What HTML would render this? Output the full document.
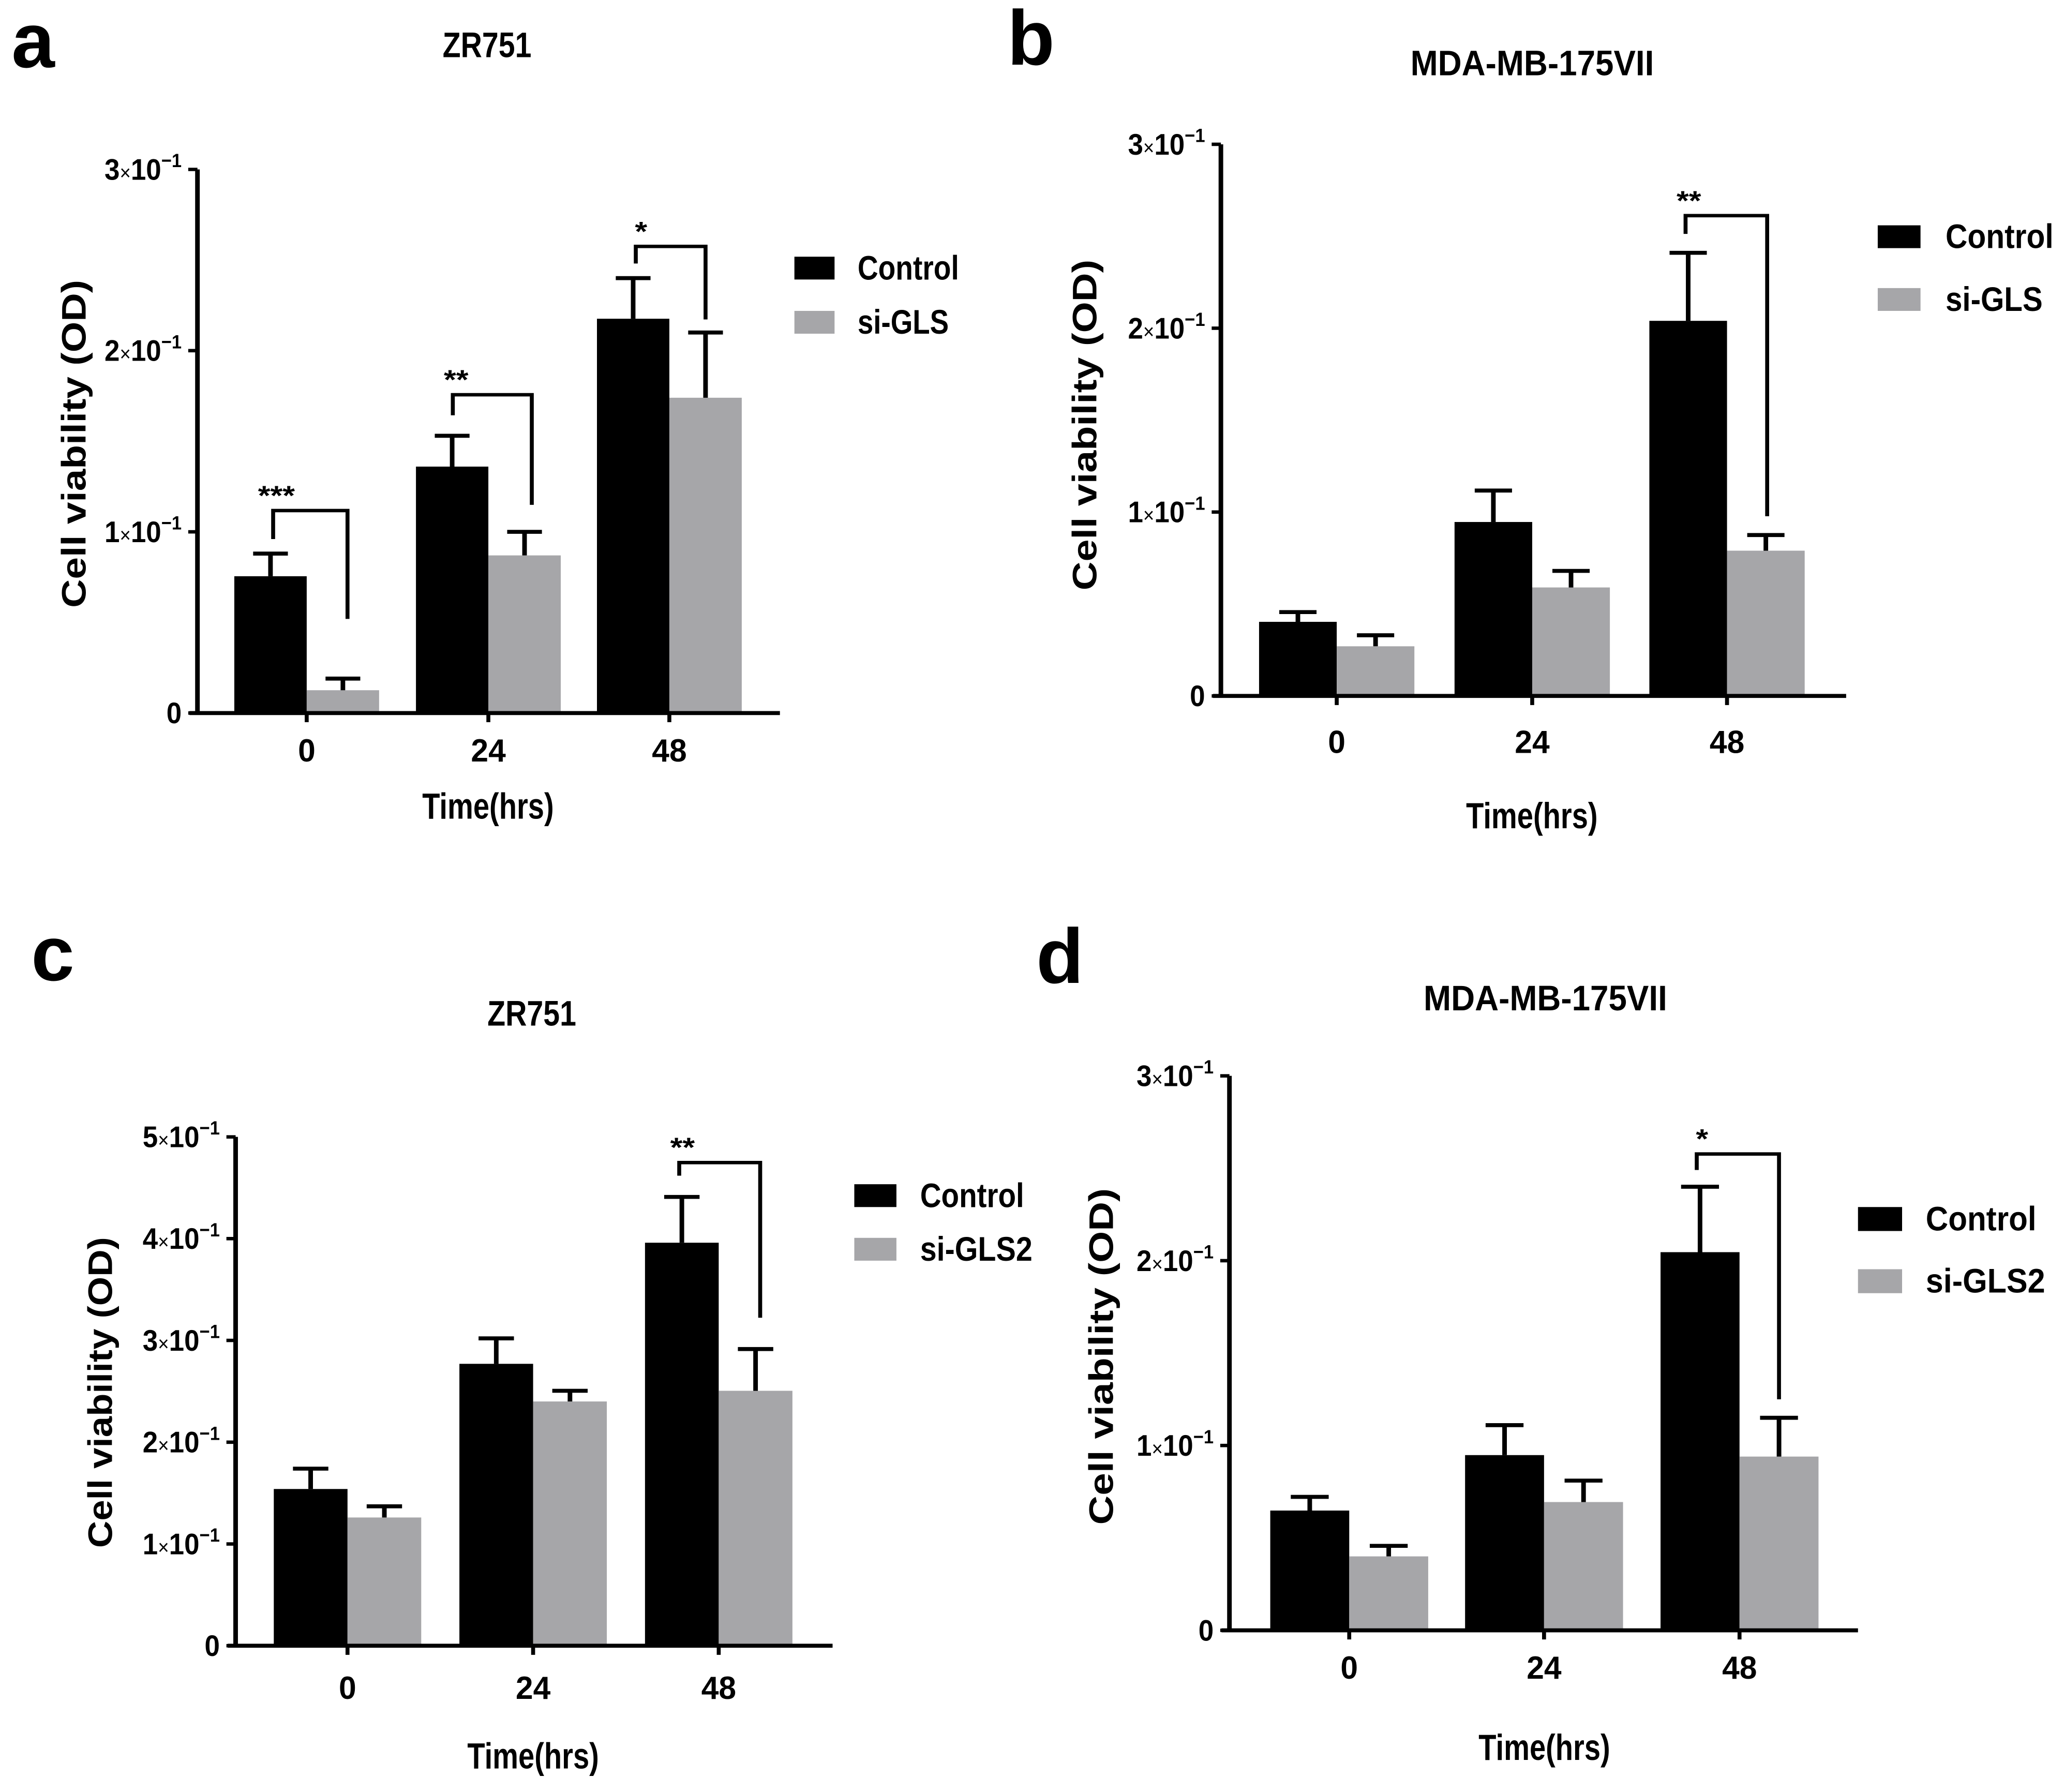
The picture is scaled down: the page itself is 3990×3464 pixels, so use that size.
<!DOCTYPE html>
<html><head><meta charset="utf-8"><style>
html,body{margin:0;padding:0;background:#fff;}
svg text{font-family:"Liberation Sans",sans-serif;font-weight:bold;fill:#000;}
</style></head><body>
<svg id="root" xmlns="http://www.w3.org/2000/svg" width="3990" height="3459" viewBox="0 0 3990 3459">
<rect width="3990" height="3459" fill="#fff"/>
<text x="64" y="130" font-size="150" text-anchor="middle">a</text>
<text x="1993" y="125" font-size="150" text-anchor="middle">b</text>
<text x="102" y="1895" font-size="150" text-anchor="middle">c</text>
<text x="2049" y="1900" font-size="150" text-anchor="middle">d</text>
</svg>
<script>
const categories = ["0","24","48"];
// panel a
const aControl = [0.0755, 0.136, 0.2176];
const aControlErr = [0.0125, 0.017, 0.0224];
const aSi = [0.0126, 0.087, 0.174];
const aSiErr = [0.0064, 0.013, 0.036];
const aTicks = ["0","1","2","3"];
// panel b
const bControl = [0.0403, 0.0946, 0.204];
const bControlErr = [0.0053, 0.0171, 0.037];
const bSi = [0.027, 0.059, 0.079];
const bSiErr = [0.006, 0.009, 0.0085];
const bTicks = ["0","1","2","3"];
// panel c
const cControl = [0.154, 0.277, 0.396];
const cControlErr = [0.020, 0.025, 0.045];
const cSi = [0.126, 0.240, 0.2505];
const cSiErr = [0.011, 0.0105, 0.041];
const cTicks = ["0","1","2","3","4","5"];
// panel d
const dControl = [0.0648, 0.0948, 0.2046];
const dControlErr = [0.0074, 0.0162, 0.0354];
const dSi = [0.040, 0.0694, 0.094];
const dSiErr = [0.0057, 0.0116, 0.021];
const dTicks = ["0","1","2","3"];

const NS = "http://www.w3.org/2000/svg";
const root = document.getElementById('root');
function mk(parent, tag, attrs){const e=document.createElementNS(NS,tag);for(const k in attrs)e.setAttribute(k,attrs[k]);parent.appendChild(e);return e;}

const panels = [
 {id:'a',ox:0,oy:0,title:'ZR751',titleX:740,titleY:100,ax:300,top:297,zero:1250,xEnd:1185,ymax:0.3,cats:[466,742,1017],bw:110,
  ctl:aControl,ctlE:aControlErr,si:aSi,siE:aSiErr,ticks:aTicks,leg:['Control','si-GLS'],legX:1207,legY:[450,545],legW:61,legH:40,textX:1303,textLen:154,
  ytX:112,ytY:778,ytLen:575,xlY:1335,timeY:1435,
  brackets:[{l:415,ly:945,t:895,r:528,ry:1085,s:'***'},{l:688,ly:728,t:692,r:808,ry:885,s:'**'},{l:966,ly:462,t:432,r:1072,ry:560,s:'*'}]},
 {id:'b',ox:1995,oy:0,title:'MDA-MB-175VII',titleX:760,titleY:132,ax:287,top:253,zero:1220,xEnd:1237,ymax:0.3,cats:[463,760,1056],bw:118,
  ctl:bControl,ctlE:bControlErr,si:bSi,siE:bSiErr,ticks:bTicks,leg:['Control','si-GLS'],legX:1285,legY:[395,505],legW:65,legH:40,textX:1388,textLen:164,
  ytX:80,ytY:745,ytLen:580,xlY:1320,timeY:1452,
  brackets:[{l:993,ly:410,t:378,r:1117,ry:905,s:'**'}]},
 {id:'c',ox:0,oy:1729,title:'ZR751',titleX:808,titleY:230,ax:358,top:425,zero:1317,xEnd:1265,ymax:0.5,cats:[528,810,1092],bw:112,
  ctl:cControl,ctlE:cControlErr,si:cSi,siE:cSiErr,ticks:cTicks,leg:['Control','si-GLS2'],legX:1298,legY:[508,602],legW:64,legH:40,textX:1398,textLen:158,
  ytX:152,ytY:873,ytLen:545,xlY:1410,timeY:1532,
  brackets:[{l:1032,ly:493,t:470,r:1155,ry:742,s:'**'}]},
 {id:'d',ox:1995,oy:1729,title:'MDA-MB-175VII',titleX:780,titleY:203,ax:300,top:318,zero:1290,xEnd:1255,ymax:0.3,cats:[482,778,1075],bw:120,
  ctl:dControl,ctlE:dControlErr,si:dSi,siE:dSiErr,ticks:dTicks,leg:['Control','si-GLS2'],legX:1255,legY:[548,657],legW:67,legH:42,textX:1358,textLen:168,
  ytX:105,ytY:810,ytLen:590,xlY:1375,timeY:1517,
  brackets:[{l:1010,ly:483,t:455,r:1135,ry:885,s:'*'}]}
];

panels.forEach(p=>{
  const g = mk(root,'svg',{x:p.ox,y:p.oy,width:1995,height:1729,viewBox:'0 0 1568 1568',preserveAspectRatio:'none',overflow:'visible'});
  
  
  const y = v => p.zero - v/p.ymax*(p.zero-p.top);
  const t = mk(g,'text',{x:p.titleX,y:p.titleY,'font-size':62,'text-anchor':'middle',textLength:p.title.length>6?370:135,lengthAdjust:'spacingAndGlyphs'});
  t.textContent=p.title;
  
  
  for(let i=0;i<categories.length;i++){
    const cx=p.cats[i];
    [[p.ctl,p.ctlE,cx-p.bw,'#000','control'],[p.si,p.siE,cx,'#a6a6a9','si']].forEach(s=>{
      const v=s[0][i], e=s[1][i];
      const r=mk(g,'rect',{x:s[2],y:y(v),width:p.bw,height:p.zero-y(v),fill:s[3]});
      
      
      const mid=s[2]+p.bw/2;
      const eb=mk(g,'path',{d:`M${mid},${y(v)}V${y(v+e)}M${mid-p.bw*0.24},${y(v+e)}H${mid+p.bw*0.24}`,stroke:'#000','stroke-width':7,fill:'none'});
      
      
    });
  }
  const ax=mk(g,'path',{d:`M${p.ax},${p.top}V${p.zero}M${p.ax-12},${p.zero}H${p.xEnd}`,stroke:'#000','stroke-width':7,fill:'none'});
  
  
  p.ticks.forEach((tk,i)=>{
    const ty=y(i*0.1);
    mk(g,'line',{x1:p.ax-14,x2:p.ax,y1:ty,y2:ty,stroke:'#000','stroke-width':6});
    const tl=mk(g,'text',{x:0,y:0,'font-size':52,'text-anchor':'end',transform:`translate(${p.ax-24},${ty+18}) scale(0.8,1)`});
    
    
    if(tk==='0'){tl.textContent='0';}
    else{tl.innerHTML=`${tk}<tspan font-size="36" font-weight="normal">×</tspan>10<tspan dy="-22" font-size="34">−1</tspan>`;}
  });
  categories.forEach((c,i)=>{
    mk(g,'line',{x1:p.cats[i],x2:p.cats[i],y1:p.zero,y2:p.zero+16,stroke:'#000','stroke-width':6});
    const xl=mk(g,'text',{x:0,y:0,'font-size':56,'text-anchor':'middle',transform:`translate(${p.cats[i]},${p.xlY}) scale(0.85,1)`});
    xl.textContent=c;
    
    
  });
  const xt=mk(g,'text',{x:(p.cats[0]+p.cats[2])/2,y:p.timeY,'font-size':64,'text-anchor':'middle',textLength:200,lengthAdjust:'spacingAndGlyphs'});
  xt.textContent='Time(hrs)';
  
  
  const yt=mk(g,'text',{x:0,y:0,'font-size':52,'text-anchor':'middle',textLength:p.ytLen,lengthAdjust:'spacingAndGlyphs',transform:`translate(${p.ytX+18},${p.ytY}) rotate(-90)`});
  yt.textContent='Cell viability (OD)';
  
  
  [['#000',p.leg[0]],['#a6a6a9',p.leg[1]]].forEach((l,i)=>{
    const lr=mk(g,'rect',{x:p.legX,y:p.legY[i],width:p.legW,height:p.legH,fill:l[0]});
    
    
    const lt=mk(g,'text',{x:p.textX,y:p.legY[i]+p.legH/2+20,'font-size':60,textLength:l[1]==='si-GLS'?(p.textLen*0.9):(l[1]==='si-GLS2'?p.textLen*1.08:p.textLen),lengthAdjust:'spacingAndGlyphs'});
    lt.textContent=l[1];
    
    
  });
  p.brackets.forEach(b=>{
    const bp=mk(g,'path',{d:`M${b.l},${b.ly}V${b.t}H${b.r}V${b.ry}`,stroke:'#000','stroke-width':6,fill:'none'});
    
    
    const st=mk(g,'text',{x:b.l+(b.s.length>1?5:8),y:b.t-10,'font-size':48,'text-anchor':'middle','font-weight':'normal'});
    st.textContent=b.s;
    
    
  });
});
</script>
</body></html>
